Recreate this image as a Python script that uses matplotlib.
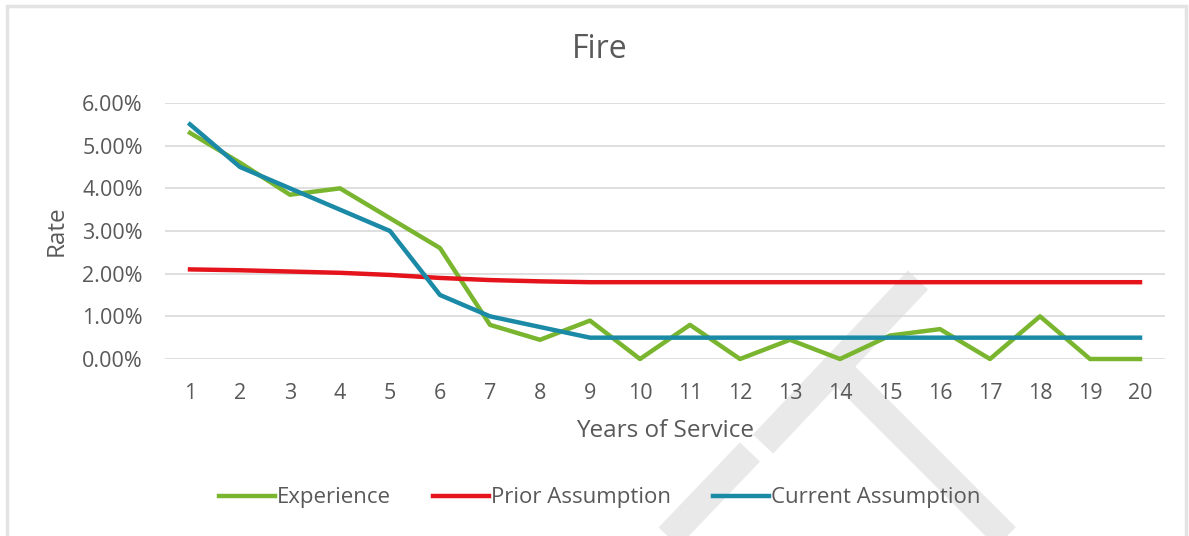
import matplotlib.pyplot as plt
from matplotlib.lines import Line2D
from matplotlib.patches import Rectangle
from matplotlib.ticker import FuncFormatter

plt.rcParams['font.family'] = ['Open Sans', 'DejaVu Sans']

years = list(range(1, 21))
experience = [5.30, 4.60, 3.85, 4.00, 3.30, 2.60, 0.80, 0.45, 0.90, 0.00,
              0.80, 0.00, 0.45, 0.00, 0.55, 0.70, 0.00, 1.00, 0.00, 0.00]
prior = [2.10, 2.08, 2.05, 2.02, 1.97, 1.90, 1.85, 1.82, 1.80, 1.80,
         1.80, 1.80, 1.80, 1.80, 1.80, 1.80, 1.80, 1.80, 1.80, 1.80]
current = [5.50, 4.50, 4.00, 3.50, 3.00, 1.50, 1.00, 0.75, 0.50, 0.50,
           0.50, 0.50, 0.50, 0.50, 0.50, 0.50, 0.50, 0.50, 0.50, 0.50]

W, H = 1189, 536
GREY = '#595959'
fig = plt.figure(figsize=(W / 100, H / 100), dpi=100)


def fx(x):
    return x / W


def fy(y):
    return 1 - y / H


# light frame around the chart
fig.patches.append(Rectangle((fx(7), -0.02), fx(1186 - 7), 1 - 6 / H + 0.02,
                             transform=fig.transFigure, fill=False,
                             edgecolor='#e3e3e3', linewidth=2.5, zorder=-2))

# faint watermark strokes
for (x0, y0), (x1, y1) in [((918, 280), (763, 444)),
                           ((835, 366), (1015, 546)),
                           ((750, 452), (660, 546))]:
    fig.lines.append(Line2D([fx(x0), fx(x1)], [fy(y0), fy(y1)],
                            transform=fig.transFigure, color='#e9e9e9',
                            lw=20, solid_capstyle='butt', zorder=-1))

ax = fig.add_axes([fx(165), fy(359), 1000 / W, 256 / H])
ax.set_facecolor('none')

ax.plot(years, experience, color='#7ab52f', lw=3.2, label='Experience',
        clip_on=False, zorder=3)
ax.plot(years, prior, color='#e5131b', lw=3.2, label='Prior Assumption',
        clip_on=False, zorder=3)
ax.plot(years, current, color='#1a8aa6', lw=3.2, label='Current Assumption',
        clip_on=False, zorder=4)

ax.set_xlim(0.5, 20.5)
ax.set_ylim(0, 6)
ax.set_xticks(years)
ax.set_yticks([0, 1, 2, 3, 4, 5, 6])
ax.yaxis.set_major_formatter(FuncFormatter(lambda v, p: f'{v:.2f}%'))
ax.grid(axis='y', color='#d9d9d9', lw=1.2)
ax.set_axisbelow(True)
for s in ax.spines.values():
    s.set_visible(False)
ax.tick_params(length=0, colors=GREY, labelsize=15.5)
ax.tick_params(axis='x', pad=17)
ax.tick_params(axis='y', pad=16)

fig.text(fx(600), fy(50), 'Fire', fontsize=23, color=GREY,
         ha='center', va='center')
fig.text(fx(665), fy(431), 'Years of Service', fontsize=17.5, color=GREY,
         ha='center', va='center')
fig.text(fx(57), fy(231), 'Rate', fontsize=17.5, color=GREY,
         ha='center', va='center', rotation=90)

ax.legend(loc='center', bbox_to_anchor=(fx(600), fy(498)),
          bbox_transform=fig.transFigure, ncol=3, frameon=False,
          fontsize=16, labelcolor=GREY, handlelength=2.5,
          handletextpad=0.1, columnspacing=1.9)

fig.savefig('out.png', dpi=100)
